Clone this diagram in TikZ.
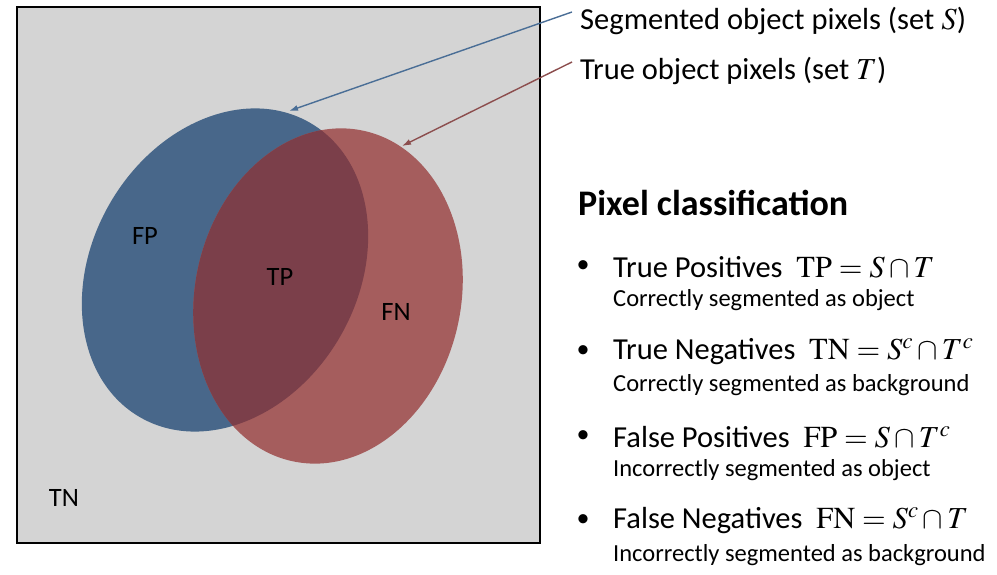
\documentclass[tikz,border=0pt]{standalone}
\usepackage{mathptmx}
\usepackage[no-math]{fontspec}
\setmainfont{Carlito}
\usetikzlibrary{arrows.meta, positioning}

\definecolor{bggray}{RGB}{212,212,212}
\definecolor{segblue}{RGB}{72,103,138}
\definecolor{truered}{RGB}{165,93,93}
\definecolor{overlap}{RGB}{123,63,74}
\definecolor{bluearrow}{RGB}{74,110,150}
\definecolor{redarrow}{RGB}{140,78,78}

\begin{document}
\begin{tikzpicture}[
    x=1pt, y=1pt,
    lbl/.style={font=\fontsize{26.5}{30}\selectfont, inner sep=0pt},
    legend/.style={anchor=west, font=\fontsize{30.5}{36}\selectfont, inner sep=0pt},
    heading/.style={anchor=west, font=\bfseries\fontsize{36}{42}\selectfont, inner sep=0pt},
    bullet/.style={font=\fontsize{26}{30}\selectfont, inner sep=0pt},
    item/.style={anchor=west, font=\fontsize{30.5}{36}\selectfont, inner sep=0pt},
    desc/.style={anchor=west, font=\fontsize{24.5}{29}\selectfont, inner sep=0pt},
    pointer/.style={line width=1.4pt, -{Latex[length=9pt, width=6pt]}}
]
\useasboundingbox (0,0) rectangle (997,575);

% Image frame (background = TN)
\fill[white] (0,0) rectangle (997,575);
\draw[line width=1.6pt, fill=bggray] (17,32) rectangle (540,568);

% Segmented set S and true set T
\fill[segblue, rotate around={-30:(225,305)}] (225,305) ellipse [x radius=133pt, y radius=170pt];
\fill[truered, rotate around={-12:(328,279)}] (328,279) ellipse [x radius=133pt, y radius=169pt];
\begin{scope}
  \clip[rotate around={-30:(225,305)}] (225,305) ellipse [x radius=133pt, y radius=170pt];
  \fill[overlap, rotate around={-12:(328,279)}] (328,279) ellipse [x radius=133pt, y radius=169pt];
\end{scope}

% Region labels
\node[lbl] (fp) at (145,339) {FP};
\node[lbl] (tp) at (280,298) {TP};
\node[lbl] (fn) at (396,263) {FN};
\node[lbl] (tn) at (64,77) {TN};

% Legend for the two sets
\node[legend] (segS) at (580,554) {Segmented object pixels (set $S$)};
\node[legend] (trueT) at (580,504) {True object pixels (set $T$)};

\coordinate (Sstart) at (572,563);
\coordinate (Send) at (289,464);
\coordinate (Tstart) at (572,513);
\coordinate (Tend) at (402,429);
\draw[pointer, bluearrow] (Sstart) -- (Send);
\draw[pointer, redarrow] (Tstart) -- (Tend);

% Pixel classification list
\node[heading] (title) at (578,372) {Pixel classification};

\node[bullet] (b1) at (583,308) {\textbullet};
\node[item] (tpItem) at (613,308) {True Positives\ \ $\mathrm{TP}=S\cap T$};
\node[desc] (tpDesc) at (613,275) {Correctly segmented as object};

\node[bullet] (b2) at (583,223) {\textbullet};
\node[item] (tnItem) at (613,223) {True Negatives\ \ $\mathrm{TN}=S^c\cap T^c$};
\node[desc] (tnDesc) at (613,190) {Correctly segmented as background};

\node[bullet] (b3) at (583,138) {\textbullet};
\node[item] (fpItem) at (613,138) {False Positives\ \ $\mathrm{FP}=S\cap T^c$};
\node[desc] (fpDesc) at (613,105) {Incorrectly segmented as object};

\node[bullet] (b4) at (583,54) {\textbullet};
\node[item] (fnItem) at (613,54) {False Negatives\ \ $\mathrm{FN}=S^c\cap T$};
\node[desc] (fnDesc) at (613,20) {Incorrectly segmented as background};

\end{tikzpicture}
\end{document}
